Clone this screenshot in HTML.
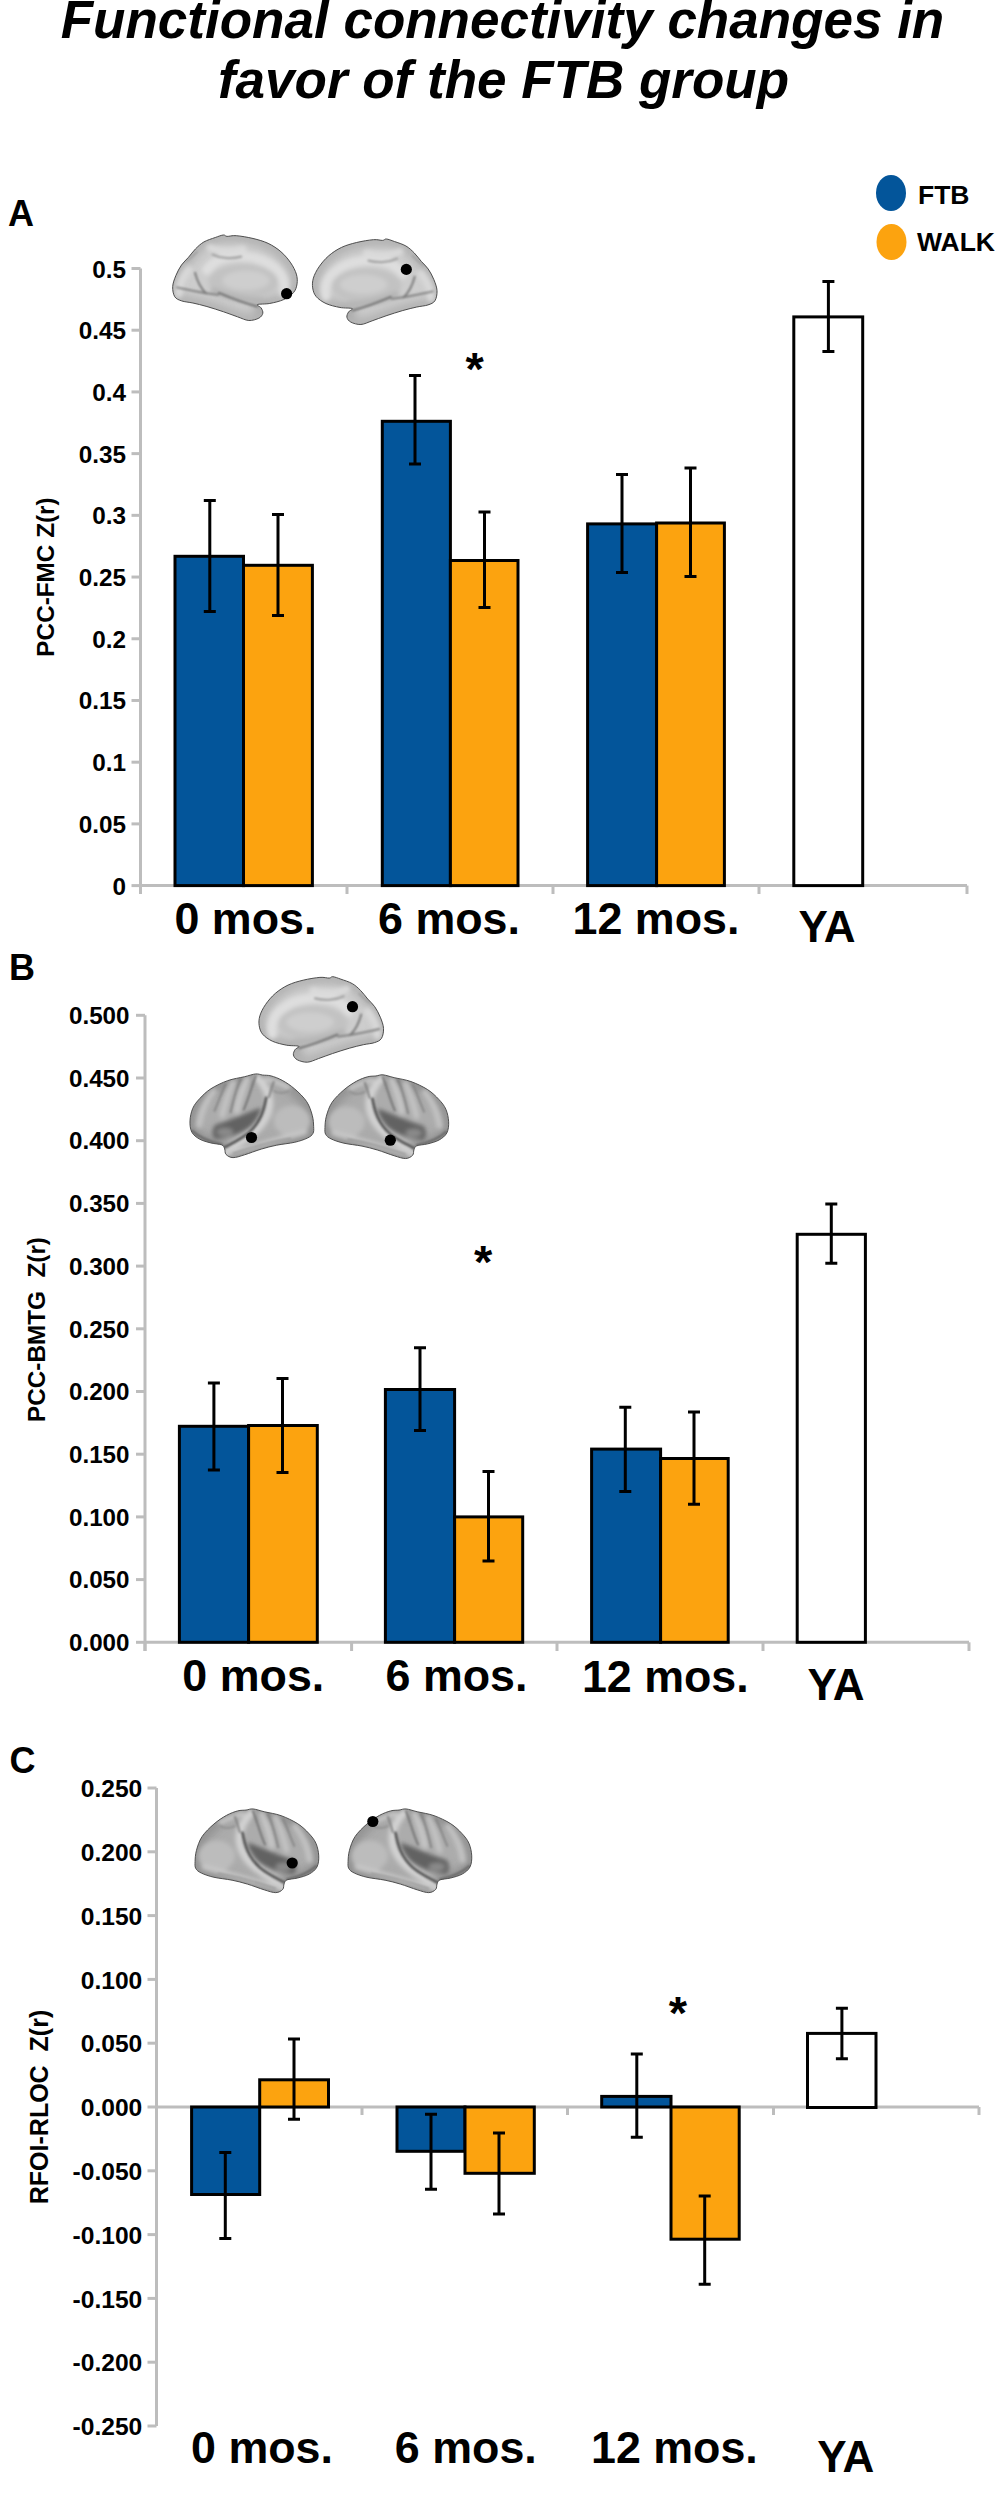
<!DOCTYPE html><html><head><meta charset="utf-8"><style>html,body{margin:0;padding:0;background:#fff;overflow:hidden;}svg{display:block;}</style></head><body>
<svg width="1002" height="2500" viewBox="0 0 1002 2500" font-family='"Liberation Sans", sans-serif'>
<rect width="1002" height="2500" fill="#fff"/>
<defs>
<filter id="bl1" x="-20%" y="-20%" width="140%" height="140%"><feGaussianBlur stdDeviation="15"/></filter>
<filter id="bl2" x="-20%" y="-20%" width="140%" height="140%"><feGaussianBlur stdDeviation="40"/></filter>
<filter id="bl0" x="-20%" y="-20%" width="140%" height="140%"><feGaussianBlur stdDeviation="9"/></filter>
<path id="Mout" d="M55.0,400.0C58.3,422.0 64.2,443.3 80.0,462.0C95.8,480.7 121.7,499.0 150.0,512.0C178.3,525.0 218.7,534.0 250.0,540.0C281.3,546.0 327.7,542.7 338.0,548.0C348.3,553.3 318.3,561.7 312.0,572.0C305.7,582.3 297.3,597.8 300.0,610.0C302.7,622.2 311.3,636.3 328.0,645.0C344.7,653.7 374.7,663.5 400.0,662.0C425.3,660.5 450.0,646.3 480.0,636.0C510.0,625.7 543.3,612.3 580.0,600.0C616.7,587.7 663.3,572.5 700.0,562.0C736.7,551.5 770.0,543.7 800.0,537.0C830.0,530.3 858.3,529.5 880.0,522.0C901.7,514.5 919.2,509.0 930.0,492.0C940.8,475.0 946.3,445.3 945.0,420.0C943.7,394.7 932.5,365.8 922.0,340.0C911.5,314.2 897.0,286.7 882.0,265.0C867.0,243.3 848.7,229.2 832.0,210.0C815.3,190.8 800.3,168.3 782.0,150.0C763.7,131.7 745.7,113.7 722.0,100.0C698.3,86.3 663.3,76.3 640.0,68.0C616.7,59.7 596.0,51.3 582.0,50.0C568.0,48.7 571.3,59.2 556.0,60.0C540.7,60.8 521.0,52.5 490.0,55.0C459.0,57.5 408.0,65.8 370.0,75.0C332.0,84.2 295.3,94.2 262.0,110.0C228.7,125.8 197.0,146.7 170.0,170.0C143.0,193.3 118.3,223.3 100.0,250.0C81.7,276.7 67.5,305.0 60.0,330.0C52.5,355.0 51.7,378.0 55.0,400.0Z"/>
<path id="Lout" d="M65.0,440.0C65.8,418.3 66.7,389.7 75.0,360.0C83.3,330.3 94.2,293.3 115.0,262.0C135.8,230.7 170.8,197.3 200.0,172.0C229.2,146.7 261.7,125.7 290.0,110.0C318.3,94.3 346.7,84.3 370.0,78.0C393.3,71.7 411.7,74.3 430.0,72.0C448.3,69.7 458.3,62.0 480.0,64.0C501.7,66.0 526.7,76.0 560.0,84.0C593.3,92.0 640.0,97.7 680.0,112.0C720.0,126.3 766.7,148.7 800.0,170.0C833.3,191.3 858.3,216.7 880.0,240.0C901.7,263.3 918.3,283.3 930.0,310.0C941.7,336.7 948.8,371.7 950.0,400.0C951.2,428.3 948.3,458.3 937.0,480.0C925.7,501.7 904.8,517.0 882.0,530.0C859.2,543.0 826.7,551.0 800.0,558.0C773.3,565.0 738.3,565.0 722.0,572.0C705.7,579.0 707.0,588.7 702.0,600.0C697.0,611.3 702.0,629.5 692.0,640.0C682.0,650.5 664.0,662.5 642.0,663.0C620.0,663.5 593.7,653.2 560.0,643.0C526.3,632.8 478.3,613.5 440.0,602.0C401.7,590.5 370.0,582.2 330.0,574.0C290.0,565.8 236.7,561.5 200.0,553.0C163.3,544.5 131.7,533.5 110.0,523.0C88.3,512.5 77.5,503.8 70.0,490.0C62.5,476.2 64.2,461.7 65.0,440.0Z"/>
<clipPath id="Mclip"><use href="#Mout"/></clipPath>
<clipPath id="Lclip"><use href="#Lout"/></clipPath>
<g id="M">
<use href="#Mout" fill="#cdcdcd"/>
<g clip-path="url(#Mclip)">
<use href="#Mout" fill="none" stroke="#8a8a8a" stroke-width="36" filter="url(#bl2)"/>
<g filter="url(#bl1)" fill="none" stroke-linecap="round">
<path d="M150,460 C120,330 250,220 420,205 C560,195 650,230 700,300" stroke="#dedede" stroke-width="70"/>
<ellipse cx="440" cy="385" rx="250" ry="125" fill="#c2c2c2" stroke="none"/>
<ellipse cx="420" cy="375" rx="170" ry="70" fill="#cecece" stroke="none"/>
<path d="M320,520 C420,520 520,500 650,450" stroke="#b5b5b5" stroke-width="50"/>
<path d="M830,300 C880,360 900,420 900,470" stroke="#d8d8d8" stroke-width="60"/>
<path d="M440,150 C520,170 620,170 680,140" stroke="#dadada" stroke-width="50"/>
</g>
<g filter="url(#bl0)" fill="none" stroke-linecap="round">
<path d="M340,562 C430,540 520,505 615,465" stroke="#707070" stroke-width="14"/>
<path d="M620,478 C720,470 820,445 915,425" stroke="#858585" stroke-width="14"/>
<path d="M785,320 C770,380 745,430 705,468" stroke="#7a7a7a" stroke-width="14"/>
<path d="M455,205 C530,225 610,215 660,190" stroke="#a4a4a4" stroke-width="16"/>
<path d="M770,170 C800,200 820,220 850,240" stroke="#9a9a9a" stroke-width="10"/>
</g>
</g>
<use href="#Mout" fill="none" stroke="#4a4a4a" stroke-width="7"/>
</g>
<g id="L">
<use href="#Lout" fill="#acacac"/>
<g clip-path="url(#Lclip)">
<use href="#Lout" fill="none" stroke="#6a6a6a" stroke-width="36" filter="url(#bl2)"/>
<g filter="url(#bl1)" fill="none" stroke-linecap="round">
<ellipse cx="220" cy="400" rx="130" ry="110" fill="#bcbcbc" stroke="none"/>
<path d="M465,95 C400,160 365,240 390,330 C420,430 520,510 610,560 C655,585 680,605 690,630" stroke="#d2d2d2" stroke-width="55"/>
<path d="M130,480 C300,525 450,565 660,628" stroke="#c6c6c6" stroke-width="40"/>
<path d="M540,100 C580,180 600,250 615,330" stroke="#c8c8c8" stroke-width="40"/>
<path d="M640,125 C680,200 700,280 720,360" stroke="#c4c4c4" stroke-width="40"/>
<path d="M780,190 C835,255 870,330 885,430" stroke="#c2c2c2" stroke-width="45"/>
<path d="M250,160 C300,135 340,120 400,100" stroke="#c6c6c6" stroke-width="40"/>
<path d="M440,305 C530,335 640,390 770,430 C795,465 795,505 770,530 C690,530 590,495 515,440 C475,400 450,355 440,305 Z" fill="#626262" stroke="none"/>
<ellipse cx="700" cy="480" rx="60" ry="30" fill="#8a8a8a" stroke="none"/>
</g>
<g filter="url(#bl0)" fill="none" stroke-linecap="round">
<path d="M405,235 C420,320 445,410 530,485 C590,535 650,560 705,590" stroke="#505050" stroke-width="18"/>
<path d="M480,80 C510,160 530,240 565,320" stroke="#707070" stroke-width="13"/>
<path d="M585,95 C620,170 640,250 660,340" stroke="#787878" stroke-width="11"/>
<path d="M695,135 C725,200 745,260 775,330" stroke="#7e7e7e" stroke-width="11"/>
<path d="M350,120 C365,160 375,195 385,230" stroke="#7e7e7e" stroke-width="13"/>
<path d="M722,568 C800,552 880,522 935,470" stroke="#606060" stroke-width="14"/>
<path d="M230,525 C360,545 500,585 640,632" stroke="#909090" stroke-width="10"/>
<path d="M240,185 C280,205 320,205 350,185" stroke="#8c8c8c" stroke-width="11"/>
</g>
</g>
<use href="#Lout" fill="none" stroke="#4e4e4e" stroke-width="7"/>
</g>
</defs>
<use href="#M" transform="translate(165,228) scale(0.13972) translate(1000,0) scale(-1,1)"/>
<use href="#M" transform="translate(305,232) scale(0.13972)"/>
<use href="#M" transform="translate(251.5,969.7) scale(0.13972)"/>
<use href="#L" transform="translate(183,1065) scale(0.13972) translate(1000,0) scale(-1,1)"/>
<use href="#L" transform="translate(315.9,1065.9) scale(0.13972)"/>
<use href="#L" transform="translate(186,1800) scale(0.13972)"/>
<use href="#L" transform="translate(339,1800) scale(0.13972)"/>
<circle cx="286.6" cy="293.7" r="5.6" fill="#000"/>
<circle cx="406.3" cy="269.4" r="5.6" fill="#000"/>
<circle cx="352.5" cy="1006.7" r="5.6" fill="#000"/>
<circle cx="251.5" cy="1137.5" r="5.6" fill="#000"/>
<circle cx="390.3" cy="1140.2" r="5.6" fill="#000"/>
<circle cx="292.2" cy="1863" r="5.6" fill="#000"/>
<circle cx="372.8" cy="1821.5" r="5.6" fill="#000"/>
<g font-weight="bold" font-style="italic" font-size="53" text-anchor="middle">
<text x="502.5" y="38">Functional connectivity changes in</text>
<text x="503.5" y="97.8">favor of the FTB group</text>
</g>
<ellipse cx="891" cy="193" rx="15" ry="18" fill="#03559a"/>
<ellipse cx="891.5" cy="242" rx="15" ry="18" fill="#fca30f"/>
<text x="918" y="204" font-size="26.5" font-weight="bold">FTB</text>
<text x="917" y="251" font-size="26.5" font-weight="bold">WALK</text>
<text x="8" y="225.5" font-size="36" font-weight="bold">A</text>
<text x="9" y="979.6" font-size="36" font-weight="bold">B</text>
<text x="9.5" y="1773" font-size="36" font-weight="bold">C</text>
<g stroke="#bdbdbd" stroke-width="3" fill="none">
<path d="M140.5,268.50V894"/>
<path d="M131.5,885.60H140.5"/>
<path d="M131.5,823.89H140.5"/>
<path d="M131.5,762.18H140.5"/>
<path d="M131.5,700.47H140.5"/>
<path d="M131.5,638.76H140.5"/>
<path d="M131.5,577.05H140.5"/>
<path d="M131.5,515.34H140.5"/>
<path d="M131.5,453.63H140.5"/>
<path d="M131.5,391.92H140.5"/>
<path d="M131.5,330.21H140.5"/>
<path d="M131.5,268.50H140.5"/>
<path d="M140.5,885.6H967"/>
<path d="M140.5,885.6V894"/>
<path d="M347,885.6V894"/>
<path d="M553,885.6V894"/>
<path d="M759,885.6V894"/>
<path d="M967,885.6V894"/>
</g>
<g font-weight="bold" font-size="24.3" text-anchor="end" fill="#000">
<text x="126" y="894.60">0</text>
<text x="126" y="832.89">0.05</text>
<text x="126" y="771.18">0.1</text>
<text x="126" y="709.47">0.15</text>
<text x="126" y="647.76">0.2</text>
<text x="126" y="586.05">0.25</text>
<text x="126" y="524.34">0.3</text>
<text x="126" y="462.63">0.35</text>
<text x="126" y="400.92">0.4</text>
<text x="126" y="339.21">0.45</text>
<text x="126" y="277.50">0.5</text>
</g>
<rect x="175.0" y="556.3" width="68.50" height="329.30" fill="#03559a" stroke="#000" stroke-width="3"/>
<rect x="243.5" y="565.3" width="68.90" height="320.30" fill="#fca30f" stroke="#000" stroke-width="3"/>
<rect x="382.3" y="421.3" width="68.10" height="464.30" fill="#03559a" stroke="#000" stroke-width="3"/>
<rect x="450.4" y="560.5" width="67.60" height="325.10" fill="#fca30f" stroke="#000" stroke-width="3"/>
<rect x="587.6" y="523.9" width="69.00" height="361.70" fill="#03559a" stroke="#000" stroke-width="3"/>
<rect x="656.6" y="523.0" width="67.80" height="362.60" fill="#fca30f" stroke="#000" stroke-width="3"/>
<rect x="793.8" y="316.9" width="68.90" height="568.70" fill="#fff" stroke="#000" stroke-width="3"/>
<path d="M209.8,500.5V611.5M203.8,500.5H215.8M203.8,611.5H215.8" stroke="#000" stroke-width="3" fill="none"/>
<path d="M278,514.5V615.5M272,514.5H284M272,615.5H284" stroke="#000" stroke-width="3" fill="none"/>
<path d="M415,375.5V464M409,375.5H421M409,464H421" stroke="#000" stroke-width="3" fill="none"/>
<path d="M484.5,512V607.5M478.5,512H490.5M478.5,607.5H490.5" stroke="#000" stroke-width="3" fill="none"/>
<path d="M622,474.5V572.5M616,474.5H628M616,572.5H628" stroke="#000" stroke-width="3" fill="none"/>
<path d="M690.5,468V576.5M684.5,468H696.5M684.5,576.5H696.5" stroke="#000" stroke-width="3" fill="none"/>
<path d="M828.4,281.5V351.5M822.4,281.5H834.4M822.4,351.5H834.4" stroke="#000" stroke-width="3" fill="none"/>
<text x="245.4" y="933.75" font-size="44.8" font-weight="bold" text-anchor="middle">0 mos.</text>
<text x="449" y="933.75" font-size="44.8" font-weight="bold" text-anchor="middle">6 mos.</text>
<text x="656" y="933.75" font-size="44.8" font-weight="bold" text-anchor="middle">12 mos.</text>
<text x="827" y="942" font-size="44" font-weight="bold" text-anchor="middle">YA</text>
<text transform="translate(54.4,577) rotate(-90)" x="0" y="0" font-size="24.3" font-weight="bold" text-anchor="middle" xml:space="preserve">PCC-FMC Z(r)</text>
<g stroke="#bdbdbd" stroke-width="3" fill="none">
<path d="M145,1015.30V1651"/>
<path d="M136,1642.30H145"/>
<path d="M136,1579.60H145"/>
<path d="M136,1516.90H145"/>
<path d="M136,1454.20H145"/>
<path d="M136,1391.50H145"/>
<path d="M136,1328.80H145"/>
<path d="M136,1266.10H145"/>
<path d="M136,1203.40H145"/>
<path d="M136,1140.70H145"/>
<path d="M136,1078.00H145"/>
<path d="M136,1015.30H145"/>
<path d="M145,1642.3H969"/>
<path d="M145,1642.3V1651"/>
<path d="M351.6,1642.3V1651"/>
<path d="M557,1642.3V1651"/>
<path d="M763,1642.3V1651"/>
<path d="M969,1642.3V1651"/>
</g>
<g font-weight="bold" font-size="24.2" text-anchor="end" fill="#000">
<text x="129.5" y="1651.00">0.000</text>
<text x="129.5" y="1588.30">0.050</text>
<text x="129.5" y="1525.60">0.100</text>
<text x="129.5" y="1462.90">0.150</text>
<text x="129.5" y="1400.20">0.200</text>
<text x="129.5" y="1337.50">0.250</text>
<text x="129.5" y="1274.80">0.300</text>
<text x="129.5" y="1212.10">0.350</text>
<text x="129.5" y="1149.40">0.400</text>
<text x="129.5" y="1086.70">0.450</text>
<text x="129.5" y="1024.00">0.500</text>
</g>
<rect x="179.39999999999998" y="1426.3" width="69.20" height="216.00" fill="#03559a" stroke="#000" stroke-width="3"/>
<rect x="248.6" y="1425.5" width="68.70" height="216.80" fill="#fca30f" stroke="#000" stroke-width="3"/>
<rect x="385.4" y="1389.5" width="69.20" height="252.80" fill="#03559a" stroke="#000" stroke-width="3"/>
<rect x="454.6" y="1516.9" width="68.10" height="125.40" fill="#fca30f" stroke="#000" stroke-width="3"/>
<rect x="591.6" y="1449.1" width="69.00" height="193.20" fill="#03559a" stroke="#000" stroke-width="3"/>
<rect x="660.6" y="1458.5" width="67.60" height="183.80" fill="#fca30f" stroke="#000" stroke-width="3"/>
<rect x="797.1999999999999" y="1234.3" width="68.20" height="408.00" fill="#fff" stroke="#000" stroke-width="3"/>
<path d="M213.9,1383V1470M207.9,1383H219.9M207.9,1470H219.9" stroke="#000" stroke-width="3" fill="none"/>
<path d="M282.5,1378.5V1472.5M276.5,1378.5H288.5M276.5,1472.5H288.5" stroke="#000" stroke-width="3" fill="none"/>
<path d="M420,1347.7V1430.5M414,1347.7H426M414,1430.5H426" stroke="#000" stroke-width="3" fill="none"/>
<path d="M488.5,1471.5V1561M482.5,1471.5H494.5M482.5,1561H494.5" stroke="#000" stroke-width="3" fill="none"/>
<path d="M625.3,1407.2V1491.4M619.3,1407.2H631.3M619.3,1491.4H631.3" stroke="#000" stroke-width="3" fill="none"/>
<path d="M694,1412.1V1504.2M688,1412.1H700M688,1504.2H700" stroke="#000" stroke-width="3" fill="none"/>
<path d="M831.3,1203.9V1263.3M825.3,1203.9H837.3M825.3,1263.3H837.3" stroke="#000" stroke-width="3" fill="none"/>
<text x="253.3" y="1690.5" font-size="44.8" font-weight="bold" text-anchor="middle">0 mos.</text>
<text x="456.5" y="1690.5" font-size="44.8" font-weight="bold" text-anchor="middle">6 mos.</text>
<text x="665.3" y="1691.5" font-size="44.8" font-weight="bold" text-anchor="middle">12 mos.</text>
<text x="836" y="1700" font-size="44" font-weight="bold" text-anchor="middle">YA</text>
<text transform="translate(45,1329.5) rotate(-90)" x="0" y="0" font-size="24.3" font-weight="bold" text-anchor="middle" xml:space="preserve">PCC-BMTG  Z(r)</text>
<g stroke="#bdbdbd" stroke-width="3" fill="none">
<path d="M156.5,1788.00V2426"/>
<path d="M147.5,2426.00H156.5"/>
<path d="M147.5,2362.20H156.5"/>
<path d="M147.5,2298.40H156.5"/>
<path d="M147.5,2234.60H156.5"/>
<path d="M147.5,2170.80H156.5"/>
<path d="M147.5,2107.00H156.5"/>
<path d="M147.5,2043.20H156.5"/>
<path d="M147.5,1979.40H156.5"/>
<path d="M147.5,1915.60H156.5"/>
<path d="M147.5,1851.80H156.5"/>
<path d="M147.5,1788.00H156.5"/>
<path d="M156.5,2107H979"/>
<path d="M156.5,2107V2115"/>
<path d="M362,2107V2115"/>
<path d="M567.5,2107V2115"/>
<path d="M773.5,2107V2115"/>
<path d="M979,2107V2115"/>
</g>
<g font-weight="bold" font-size="24.6" text-anchor="end" fill="#000">
<text x="142.3" y="2435.20">-0.250</text>
<text x="142.3" y="2371.40">-0.200</text>
<text x="142.3" y="2307.60">-0.150</text>
<text x="142.3" y="2243.80">-0.100</text>
<text x="142.3" y="2180.00">-0.050</text>
<text x="142.3" y="2116.20">0.000</text>
<text x="142.3" y="2052.40">0.050</text>
<text x="142.3" y="1988.60">0.100</text>
<text x="142.3" y="1924.80">0.150</text>
<text x="142.3" y="1861.00">0.200</text>
<text x="142.3" y="1797.20">0.250</text>
</g>
<rect x="191.6" y="2107" width="68.10" height="87.50" fill="#03559a" stroke="#000" stroke-width="3"/>
<rect x="259.7" y="2079.8" width="68.80" height="27.20" fill="#fca30f" stroke="#000" stroke-width="3"/>
<rect x="397.0" y="2107" width="68.00" height="44.30" fill="#03559a" stroke="#000" stroke-width="3"/>
<rect x="465" y="2107" width="69.30" height="66.30" fill="#fca30f" stroke="#000" stroke-width="3"/>
<rect x="601.7" y="2096.4" width="69.30" height="10.60" fill="#03559a" stroke="#000" stroke-width="3"/>
<rect x="671" y="2107" width="68.20" height="132.20" fill="#fca30f" stroke="#000" stroke-width="3"/>
<rect x="807.5" y="2033.4" width="68.50" height="74.10" fill="#fff" stroke="#000" stroke-width="3"/>
<path d="M225.3,2152.5V2238.5M219.3,2152.5H231.3M219.3,2238.5H231.3" stroke="#000" stroke-width="3" fill="none"/>
<path d="M294,2038.9V2119.3M288,2038.9H300M288,2119.3H300" stroke="#000" stroke-width="3" fill="none"/>
<path d="M431,2114.2V2189.3M425,2114.2H437M425,2189.3H437" stroke="#000" stroke-width="3" fill="none"/>
<path d="M499,2133V2213.9M493,2133H505M493,2213.9H505" stroke="#000" stroke-width="3" fill="none"/>
<path d="M636.8,2054V2137.3M630.8,2054H642.8M630.8,2137.3H642.8" stroke="#000" stroke-width="3" fill="none"/>
<path d="M704.7,2196.1V2284.2M698.7,2196.1H710.7M698.7,2284.2H710.7" stroke="#000" stroke-width="3" fill="none"/>
<path d="M841.9,2008.3V2058.8M835.9,2008.3H847.9M835.9,2058.8H847.9" stroke="#000" stroke-width="3" fill="none"/>
<text x="262" y="2463" font-size="44.8" font-weight="bold" text-anchor="middle">0 mos.</text>
<text x="465.8" y="2463" font-size="44.8" font-weight="bold" text-anchor="middle">6 mos.</text>
<text x="674.4" y="2463" font-size="44.8" font-weight="bold" text-anchor="middle">12 mos.</text>
<text x="845.8" y="2472" font-size="44" font-weight="bold" text-anchor="middle">YA</text>
<text transform="translate(48,2107) rotate(-90)" x="0" y="0" font-size="25.0" font-weight="bold" text-anchor="middle" xml:space="preserve">RFOI-RLOC  Z(r)</text>
<text x="465.5" y="385" font-size="47" font-weight="bold">*</text>
<text x="474" y="1278.3" font-size="47" font-weight="bold">*</text>
<text x="668.7" y="2029.3" font-size="47" font-weight="bold">*</text>
</svg></body></html>
